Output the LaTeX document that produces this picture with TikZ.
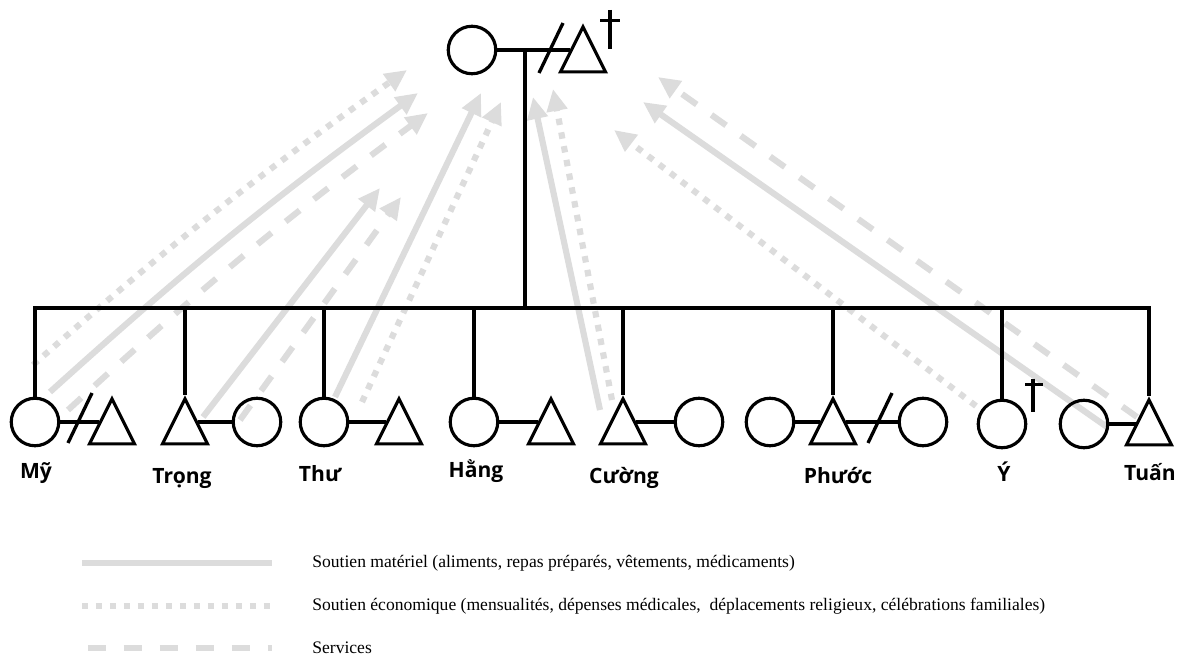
\documentclass[tikz,border=0pt]{standalone}
\usepackage{fontspec}
\setmainfont{Liberation Serif}
\newfontfamily\namefont{Open Sans}
\usetikzlibrary{arrows.meta,shapes.geometric}

\definecolor{kin}{RGB}{220,220,220}

\tikzstyle{female} = [circle, draw=black, line width=1.8pt, 
minimum size=0.95cm, 
inner sep=0pt]
\tikzstyle{male} = [isosceles triangle, isosceles triangle stretches, 
shape border rotate=90, 
draw=black, line width=1.8pt, 
minimum width=0.9cm, 
minimum height=0.9cm, 
inner sep=0pt]
\tikzstyle{tie} = [draw=black, line width=1.9pt]
\tikzstyle{kinname} = [font=\namefont\bfseries\fontsize{12}{14}\selectfont, anchor=base, inner sep=0pt]
\tikzstyle{legtext} = [font=\fontsize{10}{12}\selectfont, anchor=west, inner sep=0pt]
\tikzstyle{matl} = [draw=kin, line width=3.5pt, -{Triangle[length=0.44cm, width=0.4cm]}]
\tikzstyle{econ} = [matl, dash pattern=on 0.13cm off 0.15cm]
\tikzstyle{serv} = [matl, dash pattern=on 0.36cm off 0.36cm]

\begin{document}
\begin{tikzpicture}[x=0.02cm, y=-0.02cm]
\useasboundingbox (0,0) rectangle (1181,655);

% support flows, children -> parents
\coordinate (myE) at (33,365);    \coordinate (myEt) at (407,70);
\coordinate (myM) at (50,392);    \coordinate (myMt) at (418,93);
\coordinate (myS) at (68,410);    \coordinate (mySt) at (428,113);
\coordinate (trongM) at (203,417); \coordinate (trongMt) at (380,188);
\coordinate (trongS) at (240,420); \coordinate (trongSt) at (401,197);
\coordinate (thuM) at (335,397);  \coordinate (thuMt) at (481,93);
\coordinate (thuE) at (362,402);  \coordinate (thuEt) at (501,102);
\coordinate (cuongM) at (600,410); \coordinate (cuongMt) at (533,97);
\coordinate (cuongE) at (612,400); \coordinate (cuongEt) at (553,89);
\coordinate (yeE) at (976,406);   \coordinate (yeEt) at (614,130);
\coordinate (tuanM) at (1107,427); \coordinate (tuanMt) at (643,102);
\coordinate (tuanS) at (1137,417); \coordinate (tuanSt) at (658,77);

\draw [econ] (myE) to[bend left=3] (myEt);
\draw [matl] (myM) to[bend left=3] (myMt);
\draw [serv] (myS) to[bend left=3] (mySt);
\draw [matl] (trongM) -- (trongMt);
\draw [serv] (trongS) -- (trongSt);
\draw [matl] (thuM) -- (thuMt);
\draw [econ] (thuE) -- (thuEt);
\draw [matl] (cuongM) -- (cuongMt);
\draw [econ] (cuongE) -- (cuongEt);
\draw [econ] (yeE) -- (yeEt);
\draw [matl] (tuanM) -- (tuanMt);
\draw [serv] (tuanS) -- (tuanSt);

% parents
\node (mother) [female] at (472,50) {};
\node (father) [male] at (583,58) {};
\draw [tie] (mother) -- (mother -| father.left side);
\draw [tie] (551,48) +(-12,25) -- +(12,-25);
\draw [tie] (father.apex) ++(27,-13) -- ++(0,39) (father.apex) ++(17,-2) -- ++(20,0);
\coordinate (top) at (525,50);
\coordinate (sib) at (525,308);
\draw [tie] (top) -- (sib);

% children and spouses
\node (my) [female] at (35,422) {};
\node (myh) [male] at (112,430) {};
\node (trong) [male] at (185,430) {};
\node (trongw) [female] at (257,422) {};
\node (thu) [female] at (324,422) {};
\node (thuh) [male] at (399,430) {};
\node (hang) [female] at (474,422) {};
\node (hangh) [male] at (551,430) {};
\node (cuong) [male] at (623,430) {};
\node (cuongw) [female] at (699,422) {};
\node (phuocw) [female] at (770,422) {};
\node (phuoc) [male] at (833,430) {};
\node (phuocx) [female] at (923,422) {};
\node (ye) [female] at (1002,424) {};
\node (tuanw) [female] at (1084,424) {};
\node (tuan) [male] at (1149,431) {};

\draw [tie] (my) -- (my -| myh.left side);
\draw [tie] (80,418) +(-12,25) -- +(12,-25);
\draw [tie] (trongw -| trong.right side) -- (trongw);
\draw [tie] (thu) -- (thu -| thuh.left side);
\draw [tie] (hang) -- (hang -| hangh.left side);
\draw [tie] (cuongw -| cuong.right side) -- (cuongw);
\draw [tie] (phuocw) -- (phuocw -| phuoc.left side);
\draw [tie] (phuocx -| phuoc.right side) -- (phuocx);
\draw [tie] (880,418) +(-12,25) -- +(12,-25);
\draw [tie] (tuanw) -- (tuanw -| tuan.left side);
\draw [tie] (ye.north) ++(31,-20) -- ++(0,33) (ye.north) ++(23,-14) -- ++(18,0);

% sibship line
\draw [tie, line join=miter] (my.north) -- (my.north |- sib) -- (tuan.apex |- sib) -- (tuan.apex);
\foreach \k in {trong.apex, thu.north, hang.north, cuong.apex, phuoc.apex, ye.north}
  \draw [tie] (\k) -- (\k |- sib);

% names
\node (lmy) [kinname] at (36,479) {Mỹ};
\node (ltrong) [kinname] at (182,483) {Trọng};
\node (lthu) [kinname] at (320,481) {Thư};
\node (lhang) [kinname] at (476,478) {Hằng};
\node (lcuong) [kinname] at (624,483) {Cường};
\node (lphuoc) [kinname] at (838,483) {Phước};
\node (lye) [kinname] at (1004,481) {Ý};
\node (ltuan) [kinname] at (1150,480) {Tuấn};

% legend
\node (legM) [legtext] at (312,563) {Soutien matériel (aliments, repas préparés, vêtements, médicaments)};
\node (legE) [legtext] at (312,606) {Soutien économique (mensualités, dépenses médicales, \ déplacements religieux, célébrations familiales)};
\node (legS) [legtext] at (312,648) {Services};
\draw [matl, -] (legM.west) ++(-230,0) -- ++(190,0);
\draw [econ, -] (legE.west) ++(-230,0) -- ++(188,0);
\draw [serv, -] (legS.west) ++(-224,0) -- ++(184,0);
\end{tikzpicture}
\end{document}
